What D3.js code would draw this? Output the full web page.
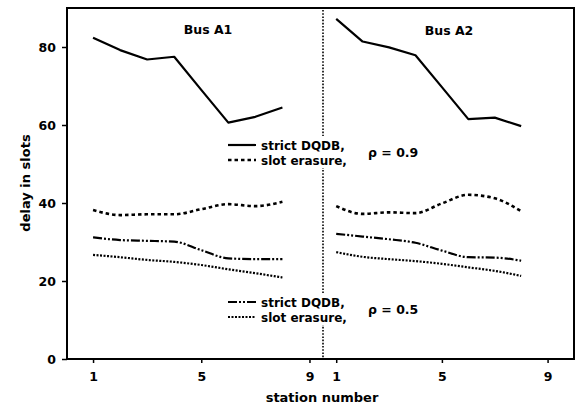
<!DOCTYPE html>
<html>
<head>
<meta charset="utf-8">
<script src="https://cdn.jsdelivr.net/npm/d3@7"></script>
<style>
  html, body { margin: 0; padding: 0; background: #fff; }
  svg text { font-family: "DejaVu Sans", "Liberation Sans", Arial, sans-serif; font-weight: bold; fill: #000; }
</style>
</head>
<body>
<svg id="chart" width="575" height="407"></svg>
<script>
// ---- data ----
const stations = [1, 2, 3, 4, 5, 6, 7, 8];
const xTicks = [1, 5, 9];
const yTicks = [0, 20, 40, 60, 80];

const a1Strict09 = [82.4, 79.2, 76.8, 77.5, 69.0, 60.6, 62.1, 64.5];
const a1Slot09   = [38.2, 36.9, 37.1, 37.1, 38.4, 39.7, 39.2, 40.3];
const a1Strict05 = [31.2, 30.5, 30.3, 30.1, 27.9, 25.8, 25.6, 25.6];
const a1Slot05   = [26.7, 26.1, 25.4, 24.9, 24.1, 23.0, 22.0, 20.9];

const a2Strict09 = [87.2, 81.4, 79.9, 77.9, 69.7, 61.5, 61.9, 59.7];
const a2Slot09   = [39.2, 37.2, 37.6, 37.4, 39.9, 42.1, 41.2, 37.9];
const a2Strict05 = [32.1, 31.4, 30.7, 29.8, 27.8, 26.1, 26.0, 25.2];
const a2Slot05   = [27.4, 26.2, 25.6, 25.1, 24.4, 23.5, 22.6, 21.3];

const panelTitles = ["Bus A1", "Bus A2"];
const legendLabels = ["strict DQDB,", "slot erasure,"];
const rhoLabels = ["\u03C1 = 0.9", "\u03C1 = 0.5"];

// ---- styles ----
const styles = {
  strict09: { dash: null, width: 2.2 },
  slot09:   { dash: "3.5,3", width: 2.6 },
  strict05: { dash: "9,2,2,2,2,2", width: 2.2 },
  slot05:   { dash: "2,1.5", width: 2.2 }
};

// ---- layout ----
const svg = d3.select("#chart");
const pL = 67, pR = 574, pT = 8, pB = 359, divX = 323;

const y = d3.scaleLinear().domain([0, 90]).range([pB, pT]);
const xL = d3.scaleLinear().domain([0, 9.5]).range([66, divX]);
const xR = d3.scaleLinear().domain([0.5, 10]).range([divX, pR]);

// frame
svg.append("rect")
  .attr("x", pL).attr("y", pT)
  .attr("width", pR - pL).attr("height", pB - pT)
  .attr("fill", "none").attr("stroke", "#000").attr("stroke-width", 2);

// y axis
const yAxis = d3.axisLeft(y).tickValues(yTicks).tickSize(5).tickPadding(6);
const gy = svg.append("g").attr("transform", `translate(${pL},0)`).call(yAxis);
gy.select(".domain").remove();
gy.selectAll("line").attr("stroke-width", 1.5);
gy.selectAll("text").attr("font-size", 12.5).attr("font-family", null);

// x axes
function xAxisDraw(scale) {
  const ax = d3.axisBottom(scale).tickValues(xTicks).tickSize(4).tickPadding(9);
  const g = svg.append("g").attr("transform", `translate(0,${pB})`).call(ax);
  g.select(".domain").remove();
  g.selectAll("line").attr("stroke-width", 1.5);
  g.selectAll("text").attr("font-size", 12.5).attr("font-family", null);
}
xAxisDraw(xL);
xAxisDraw(xR);

// divider
svg.append("line")
  .attr("x1", divX).attr("x2", divX).attr("y1", pT + 2).attr("y2", pB)
  .attr("stroke", "#000").attr("stroke-width", 1.6).attr("stroke-dasharray", "1.6,1.6");

// series
function drawSeries(xs, vals, st, curve) {
  const line = d3.line().x((d, i) => xs(stations[i])).y(d => y(d)).curve(curve);
  svg.append("path").datum(vals).attr("d", line)
    .attr("fill", "none").attr("stroke", "#000")
    .attr("stroke-width", st.width)
    .attr("stroke-linejoin", "round")
    .attr("stroke-dasharray", st.dash);
}
drawSeries(xL, a1Strict09, styles.strict09, d3.curveLinear);
drawSeries(xL, a1Slot09, styles.slot09, d3.curveMonotoneX);
drawSeries(xL, a1Strict05, styles.strict05, d3.curveMonotoneX);
drawSeries(xL, a1Slot05, styles.slot05, d3.curveMonotoneX);
drawSeries(xR, a2Strict09, styles.strict09, d3.curveLinear);
drawSeries(xR, a2Slot09, styles.slot09, d3.curveMonotoneX);
drawSeries(xR, a2Strict05, styles.strict05, d3.curveMonotoneX);
drawSeries(xR, a2Slot05, styles.slot05, d3.curveMonotoneX);

// titles
svg.append("text").attr("x", 208).attr("y", 34).attr("text-anchor", "middle")
  .attr("font-size", 12.5).text(panelTitles[0]);
svg.append("text").attr("x", 449).attr("y", 35).attr("text-anchor", "middle")
  .attr("font-size", 12.5).text(panelTitles[1]);

// legends
function legend(y0, s1, s2, rho) {
  svg.append("rect").attr("x", 226).attr("y", y0 - 9).attr("width", 190).attr("height", 32).attr("fill", "#fff");
  const rows = [s1, s2];
  rows.forEach((st, i) => {
    const yy = y0 + i * 15;
    svg.append("line").attr("x1", 228).attr("x2", 256).attr("y1", yy).attr("y2", yy)
      .attr("stroke", "#000").attr("stroke-width", st.width)
      .attr("stroke-dasharray", st.dash);
    svg.append("text").attr("x", 261).attr("y", yy + 4.5)
      .attr("font-size", 12).text(legendLabels[i]);
  });
  svg.append("text").attr("x", 368).attr("y", y0 + 12).attr("font-size", 12.5).text(rho);
}
legend(145, styles.strict09, styles.slot09, rhoLabels[0]);
legend(302, styles.strict05, styles.slot05, rhoLabels[1]);

// axis labels
svg.append("text").attr("x", 322).attr("y", 402).attr("text-anchor", "middle")
  .attr("font-size", 13).text("station number");
svg.append("text").attr("transform", "translate(30,183) rotate(-90)")
  .attr("text-anchor", "middle").attr("font-size", 13).text("delay in slots");
</script>
</body>
</html>
